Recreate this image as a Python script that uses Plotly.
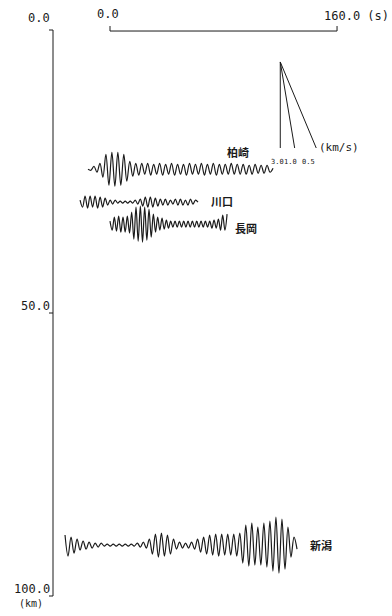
import plotly.graph_objects as go

# ---------------- data ----------------
STATIONS = ["柏崎", "川口", "長岡", "新潟"]
DIST_KM = [24.6, 30.4, 34.3, 91.0]          # epicentral distance of each trace
T_START = [-15.5, -21.1, 0.0, -31.7]        # reduced time of first sample (s)
T_END = [114.9, 62.0, 82.5, 131.8]          # reduced time of last sample (s)

# successive wave extrema (relative amplitude, + = up), read from the record
AMP_KASHIWAZAKI = [0, -1, 3, -3, 6, -8, 15, -16, 17, -17,
                   17, -16, 15, -12, 8, -7, 6, -6, 6, -5,
                   6, -6, 5, -5, 6, -6, 5, -5, 6, -6,
                   5, -5, 5, -6, 6, -5, 5, -5, 6, -6,
                   5, -5, 6, -6, 5, -5, 5, -5, 6, -5,
                   5, -5, 5, -5, 4, -5, 5, -4, 4, -4,
                   4, -3, 1]
AMP_KAWAGUCHI = [2, -5, 6, -6, 6, -5, 6, -6, 5, -5,
                 4, -3, 2, -2, 2, -1, 1, -1, 1, -1,
                 1, -1, 2, -2, 3, -4, 5, -5, 5, -5,
                 4, -4, 3, -3, 3, -3, 2, -2, 3, -3,
                 3, -3, 2, -3, 3, -2, 2, 0]
AMP_NAGAOKA = [3, -6, 7, -7, 8, -8, 7, -8, 8, -9,
               12, -15, 17, -17, 18, -18, 17, -16, 15, -13,
               10, -8, 7, -6, 6, -5, 4, -4, 3, -3,
               3, -3, 3, -3, 3, -3, 3, -3, 3, -3,
               3, -3, 3, -3, 3, -3, 3, -4, 4, -4,
               5, -6, 9, -6, 10]
AMP_NIIGATA = [10, -11, 8, -8, 6, -5, 4, -4,
               3, -3, 2, -2, 2, -1, 1, -1, 1, -1, 1, -1, 1, -1, 1, -1, 2, -2, 3, -3,
               6, -9, 11, -12, 12, -11, 10, -9, 6, -4,
               3, -3, 2, -3, 3,
               -4, 6, -7, 8, -9, 10, -10, 11, -11, 11, -10, 11, -10, 11, -11, 12,
               -18, 20, -21, 22, -20, 18, -20, 22, -22, 24, -26, 28, -28, 26, -24, 18, -12, 8, -4]
AMPLITUDES = [AMP_KASHIWAZAKI, AMP_KAWAGUCHI, AMP_NAGAOKA, AMP_NIIGATA]

DIST_TICKS = [0, 50, 100]
DIST_TICK_TEXT = ["0.0", "50.0", "100.0"]
TIME_TICKS = [0, 160]
TIME_TICK_TEXT = ["0.0", "160.0"]
FAN_VELOCITIES = [3.0, 1.0, 0.5]            # km/s
FAN_TEXT = ["3.0", "1.0", "0.5"]
REDUCTION_VEL = 3.0                         # km/s

# ---------------- layout constants ----------------
W, H = 392, 616
PX_PER_S = 1.419
PX_PER_KM = 5.66
X0_PX, Y0_PX = 110, 30                       # pixel of t=0 / km=0
AMP_KM = 1.0 / PX_PER_KM                     # one amplitude unit in km
DIST_AXIS_T = (53 - X0_PX) / PX_PER_S
TIME_AXIS_KM = 0.18
FAN_APEX_T, FAN_APEX_KM, FAN_LEN_KM = 120.0, 5.65, 15.2
FAN_LABEL_SHIFT = [-3, -4, -8]
LABEL_SHIFT = [(-35, 17), (24, 1), (19, -4), (24, 0)]

INK = "#1a1a1a"
MONO = "DejaVu Sans Mono"
CJK = "Noto Sans CJK JP"

fig = go.Figure()

# seismograms
for name, d, t0, t1, amps in zip(STATIONS, DIST_KM, T_START, T_END, AMPLITUDES):
    n = len(amps)
    dt = (t1 - t0) / (n - 1)
    ts = [t0 + i * dt for i in range(n)]
    ys = [d - a * AMP_KM for a in amps]
    fig.add_trace(go.Scatter(x=ts, y=ys, mode="lines",
                             line=dict(color=INK, width=1.2, shape="spline", smoothing=1.0),
                             hoverinfo="skip", showlegend=False))

# distance axis
tk = 4 / PX_PER_S
fig.add_trace(go.Scatter(x=[DIST_AXIS_T, DIST_AXIS_T], y=[DIST_TICKS[0], DIST_TICKS[-1]],
                         mode="lines", line=dict(color=INK, width=1), hoverinfo="skip", showlegend=False))
for v in DIST_TICKS:
    fig.add_trace(go.Scatter(x=[DIST_AXIS_T - tk, DIST_AXIS_T], y=[v, v], mode="lines",
                             line=dict(color=INK, width=1), hoverinfo="skip", showlegend=False))

# time axis
tky = 5 / PX_PER_KM
fig.add_trace(go.Scatter(x=[TIME_TICKS[0], TIME_TICKS[-1]], y=[TIME_AXIS_KM, TIME_AXIS_KM],
                         mode="lines", line=dict(color=INK, width=1), hoverinfo="skip", showlegend=False))
for v in TIME_TICKS:
    fig.add_trace(go.Scatter(x=[v, v], y=[TIME_AXIS_KM, TIME_AXIS_KM - tky], mode="lines",
                             line=dict(color=INK, width=1), hoverinfo="skip", showlegend=False))

# velocity fan
fan_ends = []
for v in FAN_VELOCITIES:
    te = FAN_APEX_T + FAN_LEN_KM * (1.0 / v - 1.0 / REDUCTION_VEL)
    de = FAN_APEX_KM + FAN_LEN_KM
    fan_ends.append((te, de))
    fig.add_trace(go.Scatter(x=[FAN_APEX_T, te], y=[FAN_APEX_KM, de], mode="lines",
                             line=dict(color=INK, width=1), hoverinfo="skip", showlegend=False))

ann = []
for v, txt in zip(DIST_TICKS, DIST_TICK_TEXT):
    ann.append(dict(x=DIST_AXIS_T, y=v, text=txt, xanchor="right", yanchor="bottom",
                    xshift=-1, yshift=(3 if v == 0 else -2), font=dict(family=MONO, size=12, color=INK)))
ann.append(dict(x=DIST_AXIS_T, y=DIST_TICKS[-1], text="(km)", xanchor="right", yanchor="top",
                xshift=-8, yshift=0, font=dict(family=MONO, size=10, color=INK)))
ann.append(dict(x=TIME_TICKS[0], y=TIME_AXIS_KM, text=TIME_TICK_TEXT[0], xanchor="center",
                yanchor="bottom", xshift=-2, yshift=8, font=dict(family=MONO, size=12, color=INK)))
ann.append(dict(x=TIME_TICKS[-1], y=TIME_AXIS_KM, text=TIME_TICK_TEXT[-1] + " (s)", xanchor="left",
                yanchor="bottom", xshift=-15, yshift=6, font=dict(family=MONO, size=12, color=INK)))
for (te, de), txt, sh in zip(fan_ends, FAN_TEXT, FAN_LABEL_SHIFT):
    ann.append(dict(x=te, y=de, text=txt, xanchor="center", yanchor="top", xshift=sh, yshift=-8,
                    font=dict(family=MONO, size=7, color=INK)))
ann.append(dict(x=fan_ends[-1][0], y=fan_ends[-1][1], text="(km/s)", xanchor="left", yanchor="middle",
                xshift=1, yshift=1, font=dict(family=MONO, size=11, color=INK)))
for name, d, t1, (sx, sy) in zip(STATIONS, DIST_KM, T_END, LABEL_SHIFT):
    ann.append(dict(x=t1, y=d, text="<b>" + name + "</b>", xanchor="center", yanchor="middle",
                    xshift=sx, yshift=sy, font=dict(family=CJK, size=11, color=INK)))
for a in ann:
    a["showarrow"] = False

fig.update_layout(
    width=W, height=H, margin=dict(l=0, r=0, t=0, b=0),
    paper_bgcolor="white", plot_bgcolor="white",
    xaxis=dict(range=[(0 - X0_PX) / PX_PER_S, (W - X0_PX) / PX_PER_S], visible=False, fixedrange=True),
    yaxis=dict(range=[(H - Y0_PX) / PX_PER_KM, (0 - Y0_PX) / PX_PER_KM], visible=False, fixedrange=True),
    annotations=ann, showlegend=False,
)
fig.write_html("out.html")
